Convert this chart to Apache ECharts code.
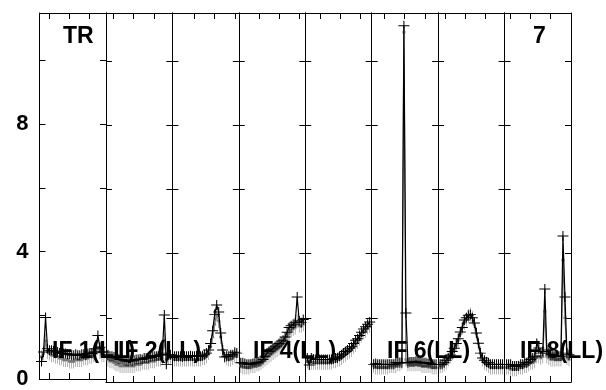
<!DOCTYPE html>
<html><head><meta charset="utf-8">
<script src="https://cdn.jsdelivr.net/npm/echarts@6/dist/echarts.min.js"></script>
<style>html,body{margin:0;padding:0;background:#fff}#c{width:606px;height:390px}</style>
</head><body><div id="c"></div>
<script>
// channel numbers within each IF
const channels = [1,2,3,4,5,6,7,8,9,10,11,12,13,14,15,16,17,18,19,20,21,22,23,24,25,26,27,28,29,30,31,32];

// IF panel labels (only some are visible in the reference)
const ifLabels = ['IF 1(LL)','IF 2(LL)','','IF 4(LL)','','IF 6(LL)','','IF 8(LL)'];
const ifLabelX = [52, 118, 0, 253, 0, 387, 0, 520];

// black series (amplitude) per IF
const black1 = [0.55,0.85,1.93,0.95,0.9,0.9,0.88,0.85,0.85,0.82,0.82,0.8,0.8,0.78,0.78,0.75,0.75,0.78,0.75,0.75,0.78,0.78,0.75,0.8,0.82,0.8,0.85,0.95,1.37,1.0,0.85,0.85];
const black2 = [0.85,0.8,0.8,0.78,0.75,0.72,0.7,0.7,0.68,0.65,0.65,0.68,0.65,0.68,0.7,0.7,0.72,0.7,0.75,0.75,0.75,0.78,0.8,0.8,0.8,0.82,0.85,0.9,2.09,0.55,0.85,0.85];
const black3 = [0.8,0.8,0.8,0.8,0.78,0.8,0.8,0.8,0.82,0.8,0.8,0.82,0.8,0.8,0.82,0.85,0.9,1.0,1.2,1.6,2.1,2.4,2.18,1.53,1.0,0.78,0.8,0.8,0.85,0.85,0.93,0.9];
const black4 = [0.6,0.6,0.58,0.55,0.55,0.55,0.58,0.6,0.6,0.62,0.65,0.7,0.8,0.9,0.95,1.0,1.05,1.1,1.15,1.2,1.25,1.3,1.4,1.55,1.7,1.75,1.8,1.85,2.65,1.9,1.85,1.95];
const black5 = [0.75,0.53,0.75,0.72,0.7,0.7,0.7,0.7,0.7,0.7,0.7,0.7,0.7,0.72,0.75,0.75,0.8,0.85,0.9,0.95,1.0,1.05,1.1,1.2,1.3,1.35,1.45,1.55,1.65,1.72,1.8,1.87];
const black6 = [0.55,0.58,0.55,0.55,0.55,0.55,0.55,0.55,0.55,0.55,0.55,0.6,0.6,0.6,0.6,11.1,2.15,0.6,0.62,0.62,0.62,0.65,0.62,0.62,0.6,0.6,0.6,0.58,0.58,0.55,0.55,0.55];
const black7 = [0.55,0.55,0.6,0.68,0.75,0.84,0.95,1.05,1.2,1.35,1.56,1.7,1.93,2.0,2.08,2.1,2.0,1.84,1.53,1.21,0.9,0.75,0.68,0.62,0.6,0.55,0.55,0.55,0.55,0.55,0.55,0.55];
const black8 = [0.55,0.55,0.55,0.5,0.5,0.5,0.5,0.55,0.55,0.6,0.6,0.65,0.7,0.75,0.8,1.2,1.06,0.9,0.95,2.9,1.0,0.9,0.85,0.85,0.8,0.8,0.8,0.8,4.55,2.65,0.9,0.85];

// gray series per IF
const gray1 = [0.7,0.8,1.2,0.85,0.8,0.75,0.75,0.7,0.7,0.65,0.65,0.6,0.6,0.6,0.55,0.55,0.55,0.6,0.6,0.6,0.6,0.65,0.65,0.65,0.7,0.7,0.75,0.8,1.0,0.85,0.75,0.75];
const gray2 = [0.7,0.65,0.65,0.6,0.55,0.55,0.5,0.5,0.5,0.5,0.5,0.5,0.5,0.5,0.55,0.55,0.55,0.6,0.6,0.6,0.6,0.65,0.65,0.65,0.7,0.7,0.7,0.75,1.3,0.7,0.75,0.75];
const gray3 = [0.7,0.7,0.7,0.7,0.7,0.7,0.7,0.7,0.7,0.7,0.7,0.7,0.7,0.7,0.75,0.75,0.8,0.9,1.1,1.4,1.8,2.1,1.9,1.4,1.0,0.8,0.75,0.7,0.7,0.75,0.8,0.8];
const gray4 = [0.5,0.45,0.45,0.45,0.45,0.5,0.5,0.5,0.55,0.55,0.6,0.65,0.7,0.75,0.8,0.85,0.9,0.95,1.0,1.05,1.1,1.2,1.3,1.4,1.5,1.6,1.65,1.7,1.9,1.75,1.75,1.8];
const gray5 = [0.65,0.6,0.6,0.6,0.6,0.6,0.6,0.6,0.6,0.6,0.6,0.6,0.6,0.65,0.65,0.7,0.7,0.75,0.8,0.85,0.9,0.95,1.0,1.1,1.15,1.25,1.35,1.45,1.55,1.6,1.7,1.75];
const gray6 = [0.5,0.45,0.45,0.45,0.45,0.45,0.45,0.45,0.5,0.5,0.5,0.5,0.55,0.55,0.6,10.9,0.7,0.55,0.55,0.55,0.55,0.55,0.55,0.55,0.5,0.5,0.5,0.5,0.5,0.45,0.45,0.45];
const gray7 = [0.5,0.5,0.55,0.6,0.7,0.8,0.9,1.0,1.15,1.3,1.5,1.7,1.85,1.95,2.05,2.1,2.0,1.8,1.5,1.2,0.9,0.7,0.6,0.55,0.5,0.45,0.45,0.45,0.45,0.45,0.45,0.45];
const gray8 = [0.45,0.45,0.4,0.4,0.4,0.4,0.45,0.45,0.45,0.5,0.5,0.55,0.6,0.6,0.65,0.8,0.8,0.75,0.8,2.2,0.8,0.75,0.7,0.7,0.7,0.7,0.7,0.7,3.8,2.0,0.75,0.7];

const blackData = [black1,black2,black3,black4,black5,black6,black7,black8];
const grayData = [gray1,gray2,gray3,gray4,gray5,gray6,gray7,gray8];

// frequency tick positions (in channel units) per IF
const xTicks = [[4.7,14.7,24.6],[3.5,13.5,23.9],[10.7,20.7,31.1],[10,20,29.9],[7.3,17.2,27.2],[6.1,16,26.5],[3.4,13.4,23.3],[2.7,12.6,22.6]];
const yTicks = [0,2,4,6,8,10];
const yLabels = [0,4,8];

const FONT = '"Liberation Sans", Arial, sans-serif';
const panelLeft = 39.5, panelW = 66.4375, panelTop = 13, panelH = 369;
const nPanels = 8;

const grid = [], xAxis = [], yAxis = [], series = [];
for (let i = 0; i < nPanels; i++) {
  grid.push({left: panelLeft + i * panelW, top: panelTop, width: panelW, height: panelH});
  ['bottom','top'].forEach(pos => {
    xAxis.push({
      type: 'value', gridIndex: i, position: pos, min: 0, max: 33,
      axisLine: {show: true, onZero: false, lineStyle: {color: '#000', width: 1}},
      axisTick: {show: true, inside: true, length: 6, customValues: xTicks[i], lineStyle: {color: '#000'}},
      axisLabel: {show: false}, splitLine: {show: false}
    });
  });
  ['left','right'].forEach(pos => {
    const showLab = (i === 0 && pos === 'left');
    yAxis.push({
      type: 'value', gridIndex: i, position: pos, min: 0, max: 11.5,
      axisLine: {show: true, onZero: false, lineStyle: {color: '#000', width: 1}},
      axisTick: {show: true, inside: true, length: 6, customValues: yTicks, lineStyle: {color: '#000'}},
      axisLabel: {show: showLab, customValues: yLabels, margin: 11, color: '#000', fontSize: 22, fontWeight: 'bold', fontFamily: FONT},
      splitLine: {show: false}
    });
  });
  series.push({
    type: 'line', xAxisIndex: 2 * i, yAxisIndex: 2 * i,
    data: channels.map((c, k) => [c, grayData[i][k]]),
    symbol: 'path://M0,7L3,7M1.5,0L1.5,14', symbolSize: [3, 14],
    itemStyle: {color: 'none', borderColor: '#7a7a7a', borderWidth: 1.2},
    lineStyle: {color: '#7a7a7a', width: 1.2},
    silent: true, animation: false, z: 2, clip: false
  });
  series.push({
    type: 'line', xAxisIndex: 2 * i, yAxisIndex: 2 * i,
    data: channels.map((c, k) => [c, blackData[i][k]]),
    symbol: 'path://M0,5L10,5M5,0L5,10', symbolSize: [11, 10],
    itemStyle: {color: 'none', borderColor: '#000', borderWidth: 1},
    lineStyle: {color: '#000', width: 1.2},
    silent: true, animation: false, z: 3, clip: false
  });
}

const textStyle = t => ({text: t, fill: '#000', font: 'bold 23px ' + FONT, verticalAlign: 'middle', align: 'left'});
const graphic = [
  {type: 'text', x: 63, y: 37, z: 100, style: textStyle('TR')},
  {type: 'text', x: 533, y: 37, z: 100, style: textStyle('7')}
];
ifLabels.forEach((t, i) => {
  if (t) graphic.push({type: 'text', x: ifLabelX[i], y: 352, z: 100, style: textStyle(t)});
});

const chart = echarts.init(document.getElementById('c'), null, {renderer: 'canvas'});
chart.setOption({animation: false, backgroundColor: '#fff', grid, xAxis, yAxis, series, graphic});
</script>
</body></html>
